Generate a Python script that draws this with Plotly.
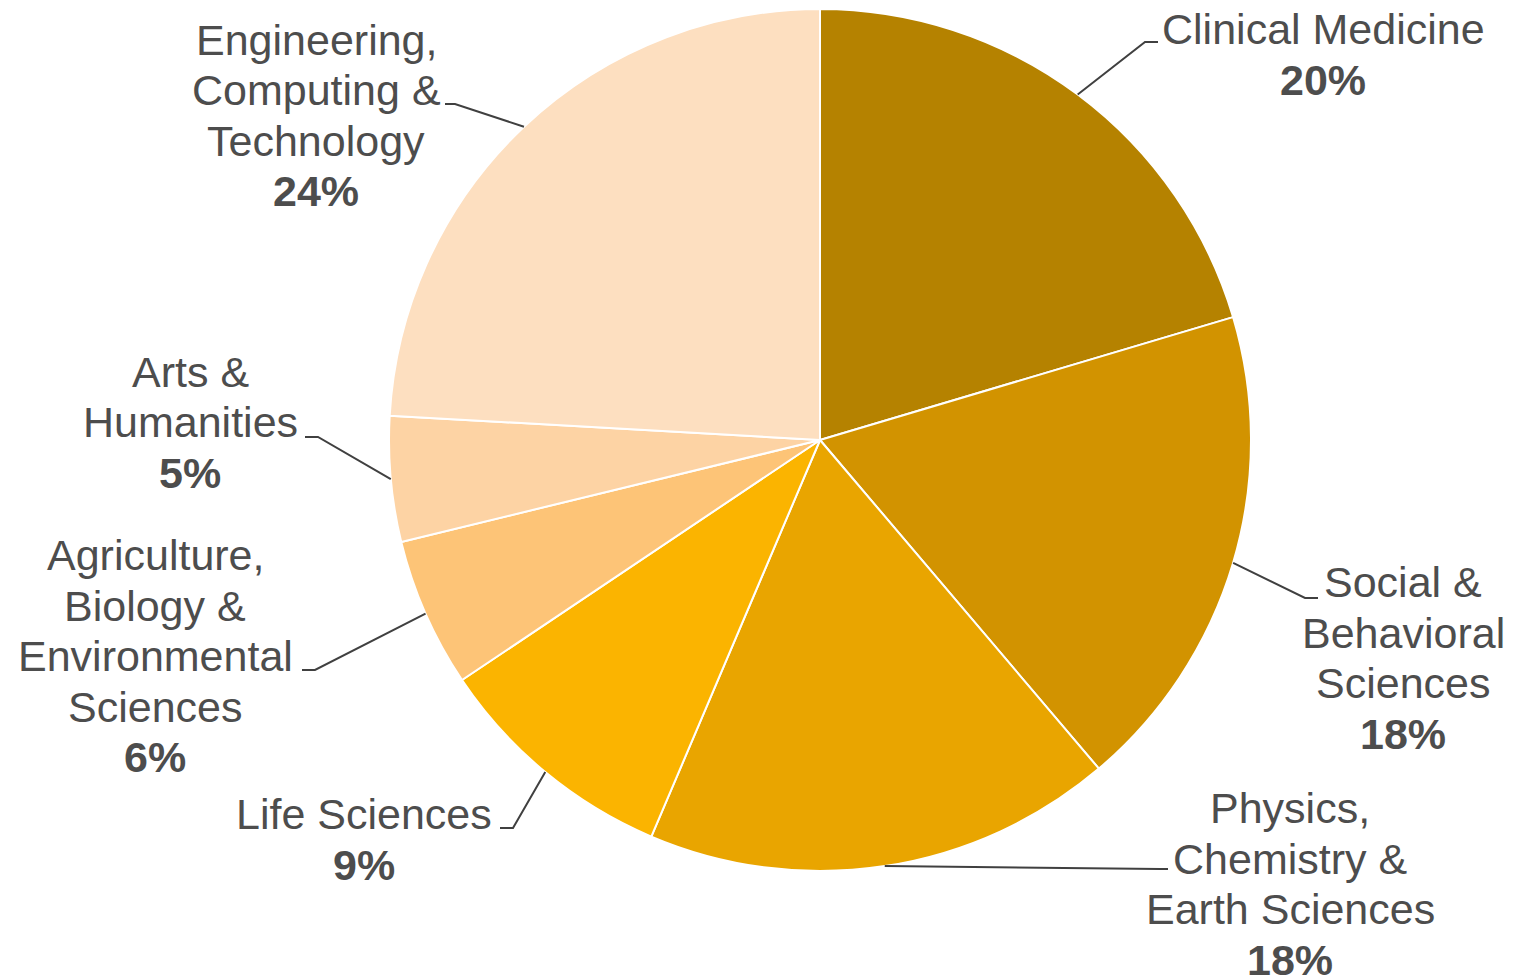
import math
import plotly.graph_objects as go

# ---- data ----
categories = [
    "Clinical Medicine",
    "Social & Behavioral Sciences",
    "Physics, Chemistry & Earth Sciences",
    "Life Sciences",
    "Agriculture, Biology & Environmental Sciences",
    "Arts & Humanities",
    "Engineering, Computing & Technology",
]
label_lines = [
    ["Clinical Medicine"],
    ["Social &", "Behavioral", "Sciences"],
    ["Physics,", "Chemistry &", "Earth Sciences"],
    ["Life Sciences"],
    ["Agriculture,", "Biology &", "Environmental", "Sciences"],
    ["Arts &", "Humanities"],
    ["Engineering,", "Computing &", "Technology"],
]
shares = [20.4, 18.4, 17.6, 9.2, 5.6, 4.7, 24.1]
colors = ["#B58200", "#D29300", "#E9A500", "#FBB400", "#FDC477", "#FDD3A4", "#FDDFC0"]

# ---- layout constants (page pixels; the page body has an 8px margin) ----
OFF = 8
W, H = 1505, 971
cx, cy, R = 820, 440, 431
# label column center x and y of the first line; line spacing
label_x = [1323, 1403, 1290, 364, 155, 190, 316]
label_y0 = [29, 582, 808, 814, 555, 372, 40]
LINE = 50.5
elbows = [((1145, 42), (1158, 42)),
          ((1305, 598), (1318, 598)),
          ((1160, 869), (1168, 869)),
          ((513, 828), (500, 828)),
          ((315, 670), (302, 670)),
          ((318, 437), (305, 437)),
          ((455, 104), (445, 104))]

def px(x):
    return (x - OFF) / W

def py(y):
    return 1 - (y - OFF) / H

fig = go.Figure(go.Pie(
    labels=categories,
    values=shares,
    sort=False,
    direction="clockwise",
    rotation=0,
    marker=dict(colors=colors, line=dict(color="white", width=2)),
    textinfo="none",
    hoverinfo="label+percent",
    domain=dict(x=[px(cx - R), px(cx + R)], y=[py(cy + R), py(cy - R)]),
    showlegend=False,
))

FONT = dict(family="Liberation Sans, Arial, sans-serif", size=43, color="#4D4D4D")

total = sum(shares)
cum = 0.0
shapes = []
annotations = []
for i, v in enumerate(shares):
    mid = (cum + v / 2) / total
    cum += v
    th = 2 * math.pi * mid
    ex = cx + R * math.sin(th)
    ey = cy - R * math.cos(th)
    (bx, by), (fx, fy) = elbows[i]
    path = f"M {px(ex)} {py(ey)} L {px(bx)} {py(by)} L {px(fx)} {py(fy)}"
    shapes.append(dict(type="path", path=path, xref="paper", yref="paper",
                       line=dict(color="#404040", width=2)))
    pct = round(v / total * 100)
    lines = label_lines[i] + [f"<b>{pct}%</b>"]
    for j, t in enumerate(lines):
        annotations.append(dict(text=t, x=px(label_x[i]), y=py(label_y0[i] + j * LINE),
                                xref="paper", yref="paper",
                                xanchor="center", yanchor="middle", align="center",
                                showarrow=False, font=FONT))

fig.update_layout(
    width=W, height=H,
    margin=dict(l=0, r=0, t=0, b=0),
    paper_bgcolor="white",
    plot_bgcolor="white",
    shapes=shapes,
    annotations=annotations,
)

fig.write_html("out.html")
